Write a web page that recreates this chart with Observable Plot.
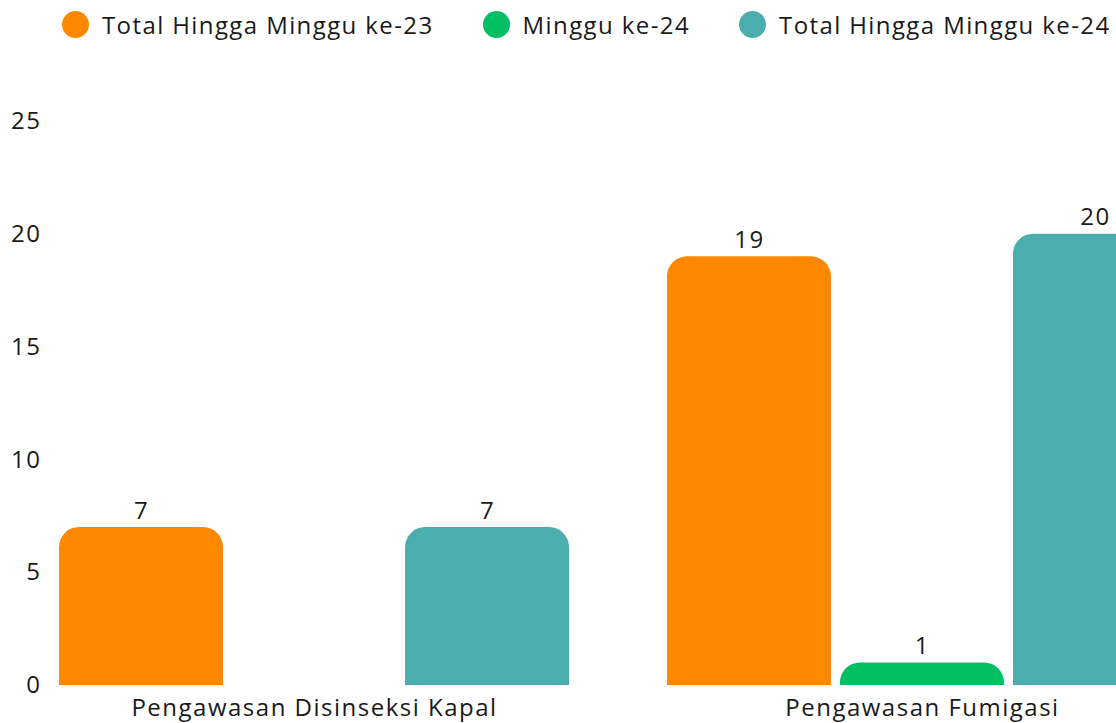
<!DOCTYPE html>
<html><head><meta charset="utf-8">
<script src="https://cdn.jsdelivr.net/npm/d3@7"></script>
<script src="https://cdn.jsdelivr.net/npm/@observablehq/plot@0.6"></script>
<style>
html,body{margin:0;padding:0;background:#fff;overflow:hidden;width:1116px;height:723px}
#legend{display:flex;align-items:center;height:48px;padding-left:62px;font-family:"Open Sans",sans-serif;font-size:24px;letter-spacing:1.4px;color:#1a1a1a;white-space:nowrap}
.item{display:flex;align-items:center;margin-right:49px}
.sw{width:27px;height:27px;border-radius:50%;margin-right:13px;flex:none}
#chart svg{max-width:none !important;display:block}
#chart svg text{letter-spacing:1.5px}
</style></head><body>
<div id="legend"></div><div id="chart"></div>
<script>
const categories = ["Pengawasan Disinseksi Kapal", "Pengawasan Fumigasi"];
const series = ["Total Hingga Minggu ke-23", "Minggu ke-24", "Total Hingga Minggu ke-24"];
const colors = ["#FF8800", "#00BF63", "#4BADAD"];
const valuesWeek23Total = [7, 19];
const valuesWeek24 = [0, 1];
const valuesWeek24Total = [7, 20];
const yTicks = [0, 5, 10, 15, 20, 25];

const seriesValues = [valuesWeek23Total, valuesWeek24, valuesWeek24Total];
const data = [];
categories.forEach((c, i) => series.forEach((s, j) => data.push({category: c, series: s, value: seriesValues[j][i]})));
const shown = data.filter(d => d.value > 0);

const legend = document.getElementById("legend");
series.forEach((s, j) => {
  const it = document.createElement("div"); it.className = "item";
  const sw = document.createElement("div"); sw.className = "sw"; sw.style.background = colors[j];
  const t = document.createElement("span"); t.textContent = s;
  it.appendChild(sw); it.appendChild(t); legend.appendChild(it);
});

const chart = Plot.plot({
  width: 1177, height: 675,
  marginLeft: 59, marginRight: 0, marginTop: 73, marginBottom: 38,
  style: {fontFamily: "'Open Sans', sans-serif", fontSize: "24px", color: "#1a1a1a", background: "#fff", overflow: "visible"},
  fx: {domain: categories, paddingInner: 0.161, paddingOuter: 0, round: false, label: null, axis: "bottom", tickSize: 0, tickPadding: 13},
  x: {domain: series, paddingInner: 0.052, paddingOuter: 0, round: false, axis: null},
  y: {domain: [0, 25], ticks: yTicks, label: null, tickSize: 0, tickPadding: 18},
  color: {domain: series, range: colors},
  marks: [
    Plot.barY(shown, {fx: "category", x: "series", y: "value", fill: "series", rx: 20, insetBottom: -30, clip: true}),
    Plot.text(shown, {fx: "category", x: "series", y: "value", text: d => String(d.value), lineAnchor: "bottom", dy: -9, fontSize: 24, fill: "#1a1a1a"})
  ]
});
document.getElementById("chart").appendChild(chart);
</script>
</body></html>
